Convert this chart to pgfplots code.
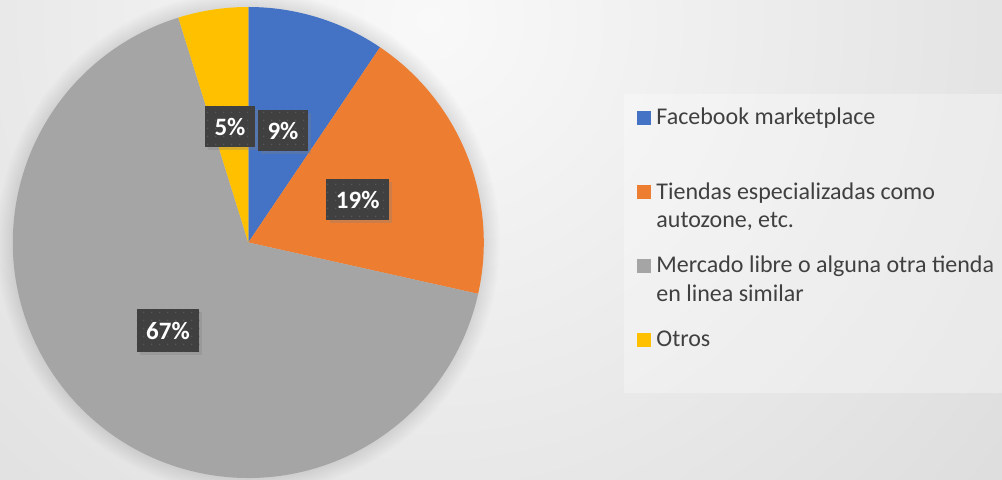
\documentclass[border=0pt]{standalone}
\usepackage{fontspec}
\setmainfont{Carlito}
\usepackage{pgfplots}
\pgfplotsset{compat=1.18}
\usepackage{pgfplotstable}
\usetikzlibrary{patterns.meta,shadows}
\definecolor{fbblue}{HTML}{4472C4}
\definecolor{tdorange}{HTML}{ED7D31}
\definecolor{mlgray}{HTML}{A5A5A5}
\definecolor{otyellow}{HTML}{FFC000}
\definecolor{lbl}{HTML}{404040}
\definecolor{lbldot}{HTML}{575757}
\definecolor{legtext}{HTML}{404040}
\definecolor{bgin}{HTML}{F9F9F9}
\definecolor{bgout}{HTML}{C0C0C0}
\pgfdeclareradialshading{bgshade}{\pgfpointorigin}{color(0bp)=(bgin); color(50bp)=(bgout)}
\tikzset{
  lblbox/.style={fill=lbl, text=white, font=\fontsize{12.5}{15}\selectfont\bfseries,
    inner xsep=4.75pt, inner ysep=0pt, minimum height=20.5pt,
    drop shadow={shadow xshift=1.6pt, shadow yshift=-1.6pt, opacity=0.3},
    postaction={pattern={Dots[distance=4pt,radius=0.45pt]}, pattern color=lbldot}},
  legtxt/.style={anchor=base west, inner sep=0pt, text=legtext, font=\fontsize{12}{14}\selectfont}
}
\pgfplotstableread{
id value
1 9.45
2 19.05
3 66.7
4 4.8
}\piedata
\begin{document}
\begin{tikzpicture}
\pgfplotstablegetelem{0}{value}\of\piedata \pgfmathsetmacro\vA{\pgfplotsretval}
\pgfplotstablegetelem{1}{value}\of\piedata \pgfmathsetmacro\vB{\pgfplotsretval}
\pgfplotstablegetelem{2}{value}\of\piedata \pgfmathsetmacro\vC{\pgfplotsretval}
\pgfplotstablegetelem{3}{value}\of\piedata \pgfmathsetmacro\vD{\pgfplotsretval}
\pgfmathsetmacro\aA{90}
\pgfmathsetmacro\aB{\aA-3.6*\vA}
\pgfmathsetmacro\aC{\aB-3.6*\vB}
\pgfmathsetmacro\aD{\aC-3.6*\vC}
\pgfmathsetmacro\aE{\aD-3.6*\vD}
\def\R{117.75pt}
\begin{scope}[x=0.5pt,y=0.5pt]
  \begin{scope}
    \clip (0,0) rectangle (1002,480);
    \shade[shading=bgshade] (430,460) circle (760);
  \end{scope}
\end{scope}
\begin{axis}[at={(0,0)}, anchor=south west, x=0.5pt, y=0.5pt,
  xmin=0, xmax=1002, ymin=0, ymax=480, hide axis, clip=false]
  % soft halo round the pie
  \pgfplotsinvokeforeach{1,...,8}{
    \fill[black, opacity=0.011] (axis cs:248.3,237.5) circle[radius={117.75pt+#1*1pt}];
  }
  % slices
  \fill[fbblue]   (axis cs:248.3,237.5) -- ++(\aA:\R) arc[start angle=\aA, end angle=\aB, radius=\R] -- cycle;
  \fill[tdorange] (axis cs:248.3,237.5) -- ++(\aB:\R) arc[start angle=\aB, end angle=\aC, radius=\R] -- cycle;
  \fill[mlgray]   (axis cs:248.3,237.5) -- ++(\aC:\R) arc[start angle=\aC, end angle=\aD, radius=\R] -- cycle;
  \fill[otyellow] (axis cs:248.3,237.5) -- ++(\aD:\R) arc[start angle=\aD, end angle=\aE, radius=\R] -- cycle;
  % data labels
  \node[lblbox] at (axis cs:230,353.5) {5\%};
  \node[lblbox] at (axis cs:283,349.5) {9\%};
  \node[lblbox] at (axis cs:357.7,280.3) {19\%};
  \node[lblbox, minimum height=21.5pt] at (axis cs:168,149.5) {67\%};
  % legend
  \fill[white, opacity=0.3] (axis cs:624,87) rectangle (axis cs:1002,386);
  \fill[fbblue]   (axis cs:637,355) rectangle (axis cs:651,369);
  \fill[tdorange] (axis cs:637,280.5) rectangle (axis cs:651,294.5);
  \fill[mlgray]   (axis cs:637,207) rectangle (axis cs:651,221);
  \fill[otyellow] (axis cs:637,133) rectangle (axis cs:651,147);
  \node[legtxt] at (axis cs:656,355) {Facebook marketplace};
  \node[legtxt] at (axis cs:656,280) {Tiendas especializadas como};
  \node[legtxt] at (axis cs:656,252) {autozone, etc.};
  \node[legtxt] at (axis cs:656,207) {Mercado libre o alguna otra tienda};
  \node[legtxt] at (axis cs:656,178) {en linea similar};
  \node[legtxt] at (axis cs:656,133) {Otros};
\end{axis}
\pgfresetboundingbox
\path[use as bounding box] (0,0) rectangle (501pt,240pt);
\end{tikzpicture}
\end{document}
